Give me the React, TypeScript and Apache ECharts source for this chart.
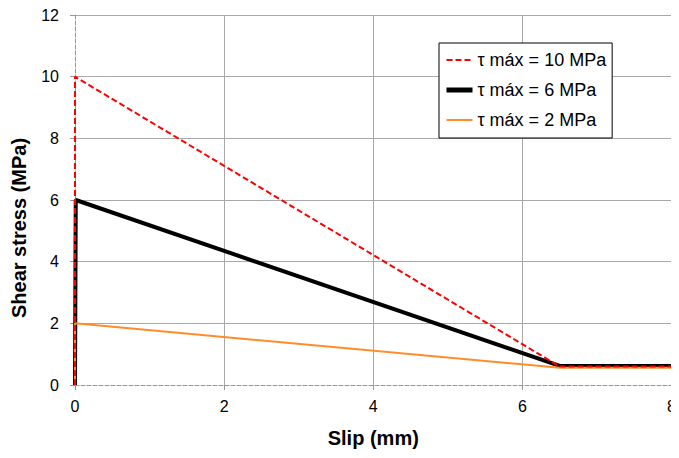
import React, { useEffect, useRef } from "react";
import * as echarts from "echarts";

const xTicks = [0, 2, 4, 6, 8];
const yTicks = [0, 2, 4, 6, 8, 10, 12];
const seriesNames = ["τ máx = 10 MPa", "τ máx = 6 MPa", "τ máx = 2 MPa"];
const tau10: [number, number][] = [[0, 0], [0, 10], [6.5, 0.6], [8, 0.6]];
const tau6: [number, number][] = [[0, 0], [0.01, 6], [6.5, 0.62], [8, 0.62]];
const tau2: [number, number][] = [[0, 0], [0, 2], [6.5, 0.56], [8, 0.56]];

const FONT = "Liberation Sans, Arial, sans-serif";
const legendWidths = [2, 5, 2];

export default function App() {
  const ref = useRef<HTMLDivElement>(null);
  useEffect(() => {
    if (!ref.current) return;
    const chart = echarts.init(ref.current, undefined, { renderer: "svg" });
    chart.setOption({
      animation: false,
      backgroundColor: "#fff",
      textStyle: { fontFamily: FONT },
      grid: { left: 75, right: 4, top: 15, bottom: 73, containLabel: false },
      legend: {
        orient: "vertical",
        left: 439,
        top: 43,
        padding: [8, 6, 9, 5],
        itemGap: 12,
        itemWidth: 26,
        itemHeight: 14,
        backgroundColor: "#fff",
        borderColor: "#000",
        borderWidth: 1,
        borderRadius: 0,
        itemStyle: { opacity: 0 },
        textStyle: { fontSize: 18, color: "#000", fontFamily: FONT },
        data: seriesNames.map((n, i) => ({ name: n, lineStyle: { width: legendWidths[i] } })),
      },
      xAxis: {
        type: "value",
        min: xTicks[0],
        max: xTicks[xTicks.length - 1],
        interval: 2,
        name: "Slip (mm)",
        nameLocation: "middle",
        nameGap: 43,
        nameTextStyle: { fontSize: 20, fontWeight: "bold", color: "#000", fontFamily: FONT },
        axisLine: { show: true, lineStyle: { color: "#969696", type: [4, 2], width: 1 } },
        axisTick: { show: true, length: 5, lineStyle: { color: "#969696" } },
        axisLabel: { fontSize: 16, color: "#000", margin: 13, fontFamily: FONT },
        splitLine: { show: true, showMinLine: false, lineStyle: { color: "#a8a8a8", width: 1 } },
      },
      yAxis: {
        type: "value",
        min: yTicks[0],
        max: yTicks[yTicks.length - 1],
        interval: 2,
        axisLine: { show: true, lineStyle: { color: "#969696", type: [4, 2], width: 1 } },
        axisTick: { show: true, length: 5, lineStyle: { color: "#969696" } },
        axisLabel: { fontSize: 16, color: "#000", margin: 16, fontFamily: FONT },
        splitLine: { show: true, showMinLine: false, lineStyle: { color: "#a8a8a8", width: 1 } },
      },
      graphic: [
        {
          type: "text",
          x: 19,
          y: 228,
          rotation: Math.PI / 2,
          style: {
            text: "Shear stress (MPa)",
            fontSize: 20,
            fontWeight: "bold",
            fill: "#000",
            fontFamily: FONT,
            align: "center",
            verticalAlign: "middle",
          },
        },
      ],
      series: [
        {
          name: seriesNames[0],
          type: "line",
          data: tau10,
          symbol: "none",
          z: 4,
          lineStyle: { color: "#ff0000", width: 2, type: [6, 3] },
          itemStyle: { color: "#ff0000" },
        },
        {
          name: seriesNames[1],
          type: "line",
          data: tau6,
          symbol: "none",
          z: 2,
          lineStyle: { color: "#000000", width: 4 },
          itemStyle: { color: "#000000" },
        },
        {
          name: seriesNames[2],
          type: "line",
          data: tau2,
          symbol: "none",
          z: 3,
          lineStyle: { color: "#ff8c2a", width: 2 },
          itemStyle: { color: "#ff8c2a" },
        },
      ],
    });
    return () => chart.dispose();
  }, []);
  return <div ref={ref} style={{ width: 679, height: 458, margin: -8 }} />;
}
